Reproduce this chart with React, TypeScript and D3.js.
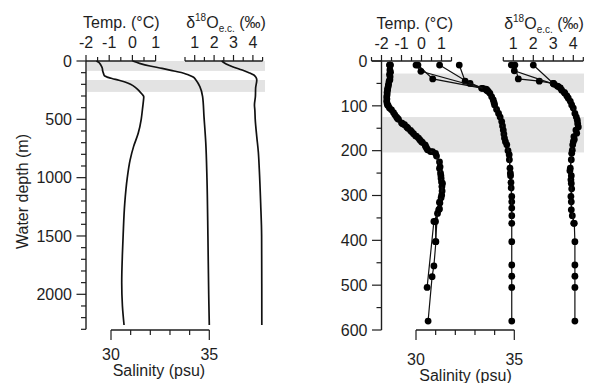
import React from 'react';
import * as d3 from 'd3';

type P = [number, number]; // [depth (m), value]

// ---------- Left panel (continuous profiles, 0-2300 m) ----------
const leftTemp: P[] = [[0,-1.55],[12,-1.45],[35,-1.36],[60,-1.3],[86,-1.28],[110,-1.24],[128,-1.2],[140,-1.05],[150,-0.88],[165,-0.58],[180,-0.32],[200,-0.08],[230,0.15],[263,0.32],[290,0.44],[306,0.49],[350,0.47],[420,0.43],[500,0.38],[620,0.25],[734,0.05],[850,-0.1],[1000,-0.22],[1220,-0.33],[1500,-0.4],[1650,-0.43],[1900,-0.46],[2100,-0.43],[2263,-0.36]];
const leftSal: P[] = [[0,31.1],[20,31.45],[43,31.98],[63,32.6],[86,33.2],[105,33.7],[120,33.95],[140,34.2],[163,34.32],[220,34.52],[306,34.66],[477,34.73],[700,34.82],[1000,34.88],[1500,34.93],[2000,34.97],[2263,35.0]];
const leftD18O: P[] = [[0,2.39],[25,2.62],[49,2.95],[77,3.45],[100,3.8],[120,4.05],[140,4.16],[163,4.2],[234,4.14],[300,4.13],[377,4.08],[420,4.1],[500,4.12],[650,4.2],[780,4.28],[930,4.33],[1220,4.4],[1500,4.45],[2263,4.46]];
const leftBands: P[] = [[0,85],[163,265]];

// ---------- Right panel (casts with samples, 0-600 m) ----------
const tempCastA: P[] = [[9,-1.58],[20,-1.58],[30,-1.6],[42,-1.58],[52,-1.65],[61,-1.69],[70,-1.72],[80,-1.74],[90,-1.74],[98,-1.7],[109,-1.5],[120,-1.33],[130,-1.15],[140,-0.95],[147,-0.74],[158,-0.49],[167,-0.3],[176,-0.08],[187,0.18],[198,0.3],[206,0.7],[236,0.93],[256,0.97],[273,1.05],[299,1.01],[317,0.92],[332,0.86],[358,0.7],[403,0.72],[457,0.62],[481,0.53],[580,0.33]];
const tempCastB: P[] = [[9,-1.55],[25,-1.55],[45,-1.62],[65,-1.7],[85,-1.73],[100,-1.66],[115,-1.4],[128,-1.2],[138,-1.0],[150,-0.68],[162,-0.4],[172,-0.15],[182,0.05],[194,0.25],[202,0.45],[212,0.75],[240,0.9],[262,0.98],[280,1.02],[305,0.98],[330,0.9],[358,0.62],[505,0.28]];
const tempCastC: P[] = [[9,-1.6],[35,-1.57],[56,-1.66],[75,-1.72],[95,-1.72],[105,-1.6],[125,-1.25],[142,-0.85],[155,-0.55],[168,-0.25],[180,0.0],[190,0.2],[202,0.55],[225,0.9],[250,0.95],[270,1.0],[290,1.03],[315,0.9],[340,0.8],[403,0.7]];

const salCastA: P[] = [[9,30.0],[23,30.25],[63,33.55],[72,33.76],[87,33.93],[98,34.0],[117,34.2],[135,34.36],[154,34.44],[172,34.5],[187,34.62],[209,34.74],[239,34.78],[256,34.81],[271,34.83],[302,34.87],[328,34.87],[362,34.87],[403,34.87],[455,34.87],[480,34.87],[505,34.87],[580,34.87]];
const salCastB: P[] = [[9,30.1],[40,30.85],[61,33.4],[68,33.68],[80,33.85],[93,33.97],[108,34.1],[125,34.28],[145,34.4],[163,34.47],[180,34.55],[200,34.68],[220,34.75],[250,34.8],[283,34.84],[314,34.87],[345,34.87]];
const salCastC: P[] = [[9,31.2],[50,32.75],[61,33.34],[66,33.6]];
const salCastD: P[] = [[9,32.2],[45,32.5],[64,33.6]];

const d18OCastA: P[] = [[9,0.9],[22,1.05],[52,3.05],[57,3.25],[65,3.42],[72,3.58],[83,3.75],[98,3.92],[117,4.08],[132,4.2],[147,4.25],[161,4.17],[175,4.05],[187,3.97],[206,3.92],[239,3.85],[256,3.9],[273,3.9],[302,3.88],[332,3.9],[362,4.05],[403,4.08],[455,4.08],[480,4.08],[505,4.08],[580,4.08]];
const d18OCastB: P[] = [[9,1.08],[40,1.25],[45,2.3],[50,3.0],[60,3.35],[70,3.55],[78,3.68],[90,3.85],[105,4.0],[125,4.15],[140,4.22],[154,4.13],[169,4.03],[180,4.0],[199,3.95],[220,3.9],[245,3.83],[265,3.88],[285,3.92],[314,3.9],[345,3.95],[362,4.02]];
const d18OCastC: P[] = [[9,2.0],[50,3.0],[56,3.2]];
const rightBands: P[] = [[28,71],[125,204]];

// tick values
const leftDepthMajor = [0, 500, 1000, 1500, 2000];
const rightDepthMajor = [0, 100, 200, 300, 400, 500, 600];
const tempLabelsLeft = [-2, -1, 0, 1];
const tempLabelsRight = [-2, -1, 0, 1];
const d18OLabels = [1, 2, 3, 4];
const salLabels = [30, 35];

const FONT = '"Liberation Sans", Arial, Helvetica, sans-serif';
const INK = '#1e1e1e';

function TopAxis({ scale, y, step, labels, labelY }: any) {
  const [a, b] = scale.domain();
  const ticks = d3.range(a, b + 1e-6, step);
  return (
    <g>
      <line x1={scale.range()[0]} x2={scale.range()[1]} y1={y} y2={y} stroke={INK} strokeWidth={1.3} />
      {ticks.map((t: number, i: number) => {
        const major = labels.some((l: number) => Math.abs(l - t) < 1e-6);
        return <line key={i} x1={scale(t)} x2={scale(t)} y1={y} y2={y - (major ? 6 : 4)} stroke={INK} strokeWidth={1.2} />;
      })}
      {labels.map((l: number) => (
        <text key={l} x={scale(l)} y={labelY} textAnchor="middle" fontSize={16} fill={INK}>{l < 0 ? '-' + Math.abs(l) : l}</text>
      ))}
    </g>
  );
}

function BottomAxis({ scale, y, labels, labelY }: any) {
  const [a, b] = scale.domain();
  const ticks = d3.range(a, b + 1e-6, 1);
  return (
    <g>
      <line x1={scale.range()[0]} x2={scale.range()[1]} y1={y} y2={y} stroke={INK} strokeWidth={1.3} />
      {ticks.map((t: number, i: number) => {
        const major = labels.includes(t);
        return <line key={i} x1={scale(t)} x2={scale(t)} y1={y} y2={y + (major ? 10 : 5)} stroke={INK} strokeWidth={1.2} />;
      })}
      {labels.map((l: number) => (
        <text key={l} x={scale(l)} y={labelY} textAnchor="middle" fontSize={16} fill={INK}>{l}</text>
      ))}
    </g>
  );
}

function LeftAxis({ scale, x, major, minorStep }: any) {
  const [a, b] = scale.domain();
  const minor = d3.range(a, b + 1e-6, minorStep);
  return (
    <g>
      <line x1={x} x2={x} y1={scale.range()[0]} y2={scale.range()[1]} stroke={INK} strokeWidth={1.4} />
      {minor.map((t: number, i: number) => {
        const isMajor = major.includes(t);
        return <line key={i} x1={x - (isMajor ? 9.5 : 5)} x2={x} y1={scale(t)} y2={scale(t)} stroke={INK} strokeWidth={1.2} />;
      })}
      {major.map((t: number) => (
        <text key={t} x={x - 14} y={scale(t)} dy="0.36em" textAnchor="end" fontSize={16} fill={INK}>{t}</text>
      ))}
    </g>
  );
}

function D18OLabel({ x, y }: any) {
  return (
    <text x={x} y={y} textAnchor="middle" fontSize={16} fill={INK}>
      <tspan>δ</tspan>
      <tspan fontSize={10} dy={-7}>18</tspan>
      <tspan dy={7}>O</tspan>
      <tspan fontSize={10} dy={4}>e.c.</tspan>
      <tspan dy={-4}> (‰)</tspan>
    </text>
  );
}

function TempLabel({ x, y }: any) {
  return (
    <text x={x} y={y} textAnchor="middle" fontSize={16} fill={INK}>Temp. (°C)</text>
  );
}

export default function App() {
  // left scales
  const yL = d3.scaleLinear().domain([0, 2300]).range([61, 329.3]);
  const tL = d3.scaleLinear().domain([-2, 1]).range([86, 155.6]);
  const dL = d3.scaleLinear().domain([0.5, 4.5]).range([185, 262.6]);
  const sL = d3.scaleLinear().domain([30, 35]).range([111, 209.3]);
  // right scales
  const yR = d3.scaleLinear().domain([0, 600]).range([61, 330]);
  const tR = d3.scaleLinear().domain([-2.5, 1.5]).range([371.5, 451.5]);
  const dR = d3.scaleLinear().domain([0.5, 4.5]).range([503.3, 583.3]);
  const sR = d3.scaleLinear().domain([30, 35]).range([416, 514.3]);

  const lineOf = (xs: any, ys: any, curve: any) =>
    d3.line<P>().x(p => xs(p[1])).y(p => ys(p[0])).curve(curve);

  const leftSeries = [
    { data: leftTemp, xs: tL },
    { data: leftSal, xs: sL },
    { data: leftD18O, xs: dL },
  ];
  const rightSeries = [
    { data: tempCastB, xs: tR }, { data: tempCastC, xs: tR }, { data: tempCastA, xs: tR },
    { data: salCastB, xs: sR }, { data: salCastC, xs: sR }, { data: salCastD, xs: sR }, { data: salCastA, xs: sR },
    { data: d18OCastB, xs: dR }, { data: d18OCastC, xs: dR }, { data: d18OCastA, xs: dR },
  ];

  return (
    <svg width={594} height={383} viewBox="0 0 594 383"
      style={{ position: 'absolute', left: 0, top: 0, background: '#fff', fontFamily: FONT }}>
      <rect x={0} y={0} width={594} height={383} fill="#fff" />
      {/* bands */}
      {leftBands.map((b, i) => (
        <rect key={'lb' + i} x={87} y={yL(b[0])} width={178} height={yL(b[1]) - yL(b[0])} fill="#e3e3e3" />
      ))}
      {rightBands.map((b, i) => (
        <rect key={'rb' + i} x={382.5} y={yR(b[0])} width={201.5} height={yR(b[1]) - yR(b[0])} fill="#e3e3e3" />
      ))}

      {/* left axes */}
      <LeftAxis scale={yL} x={86} major={leftDepthMajor} minorStep={100} />
      <TopAxis scale={tL} y={61} step={0.5} labels={tempLabelsLeft} labelY={48} />
      <TopAxis scale={dL} y={61} step={0.5} labels={d18OLabels} labelY={48} />
      <BottomAxis scale={sL} y={330} labels={salLabels} labelY={360} />
      <TempLabel x={121.3} y={27.5} />
      <D18OLabel x={226} y={27.5} />
      <text x={158.9} y={376} textAnchor="middle" fontSize={16} fill={INK}>Salinity (psu)</text>
      <text transform="translate(28,191.5) rotate(-90)" textAnchor="middle" fontSize={16} fill={INK}>Water depth (m)</text>

      {/* right axes */}
      <LeftAxis scale={yR} x={381.5} major={rightDepthMajor} minorStep={50} />
      <TopAxis scale={tR} y={61} step={0.5} labels={tempLabelsRight} labelY={49} />
      <TopAxis scale={dR} y={61} step={0.5} labels={d18OLabels} labelY={49} />
      <BottomAxis scale={sR} y={330} labels={salLabels} labelY={365} />
      <TempLabel x={414.8} y={28.5} />
      <D18OLabel x={544} y={28.5} />
      <text x={465.5} y={381} textAnchor="middle" fontSize={16} fill={INK}>Salinity (psu)</text>

      {/* left profiles */}
      {leftSeries.map((s, i) => (
        <path key={'ls' + i} d={lineOf(s.xs, yL, d3.curveMonotoneY)(s.data) || ''} fill="none" stroke="#111" strokeWidth={1.7} strokeLinejoin="round" />
      ))}

      {/* right profiles */}
      {rightSeries.map((s, i) => (
        <g key={'rs' + i}>
          <path d={lineOf(s.xs, yR, d3.curveLinear)(s.data) || ''} fill="none" stroke="#111" strokeWidth={1.2} />
          {s.data.map((p, j) => (
            <circle key={j} cx={s.xs(p[1])} cy={yR(p[0])} r={3.4} fill="#000" />
          ))}
        </g>
      ))}
    </svg>
  );
}
